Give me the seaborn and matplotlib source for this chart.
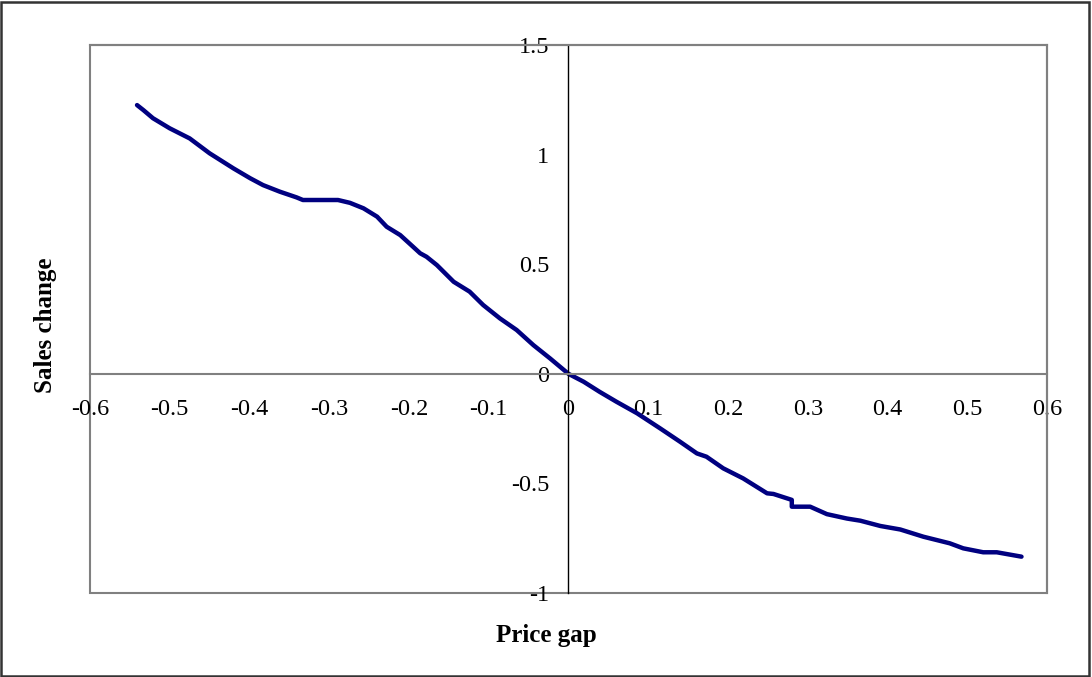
import matplotlib
matplotlib.use("Agg")
import matplotlib.pyplot as plt
from matplotlib.patches import Rectangle
import pandas as pd
import seaborn as sns

# values
price_gap = [-0.541, -0.533, -0.521, -0.500, -0.475, -0.450, -0.420, -0.399, -0.383,
             -0.362, -0.341, -0.333, -0.289, -0.274, -0.257, -0.240, -0.228, -0.211,
             -0.195, -0.186, -0.178, -0.165, -0.144, -0.124, -0.107, -0.086, -0.065,
             -0.044, -0.023, 0.000, 0.019, 0.039, 0.060, 0.086, 0.115, 0.140, 0.161,
             0.173, 0.194, 0.219, 0.249, 0.257, 0.280, 0.280, 0.303, 0.324, 0.349,
             0.366, 0.391, 0.416, 0.445, 0.478, 0.495, 0.520, 0.537, 0.568]
sales_change = [1.226, 1.203, 1.166, 1.120, 1.074, 1.006, 0.937, 0.892, 0.861,
                0.831, 0.805, 0.793, 0.793, 0.780, 0.755, 0.717, 0.671, 0.633,
                0.580, 0.550, 0.534, 0.496, 0.420, 0.375, 0.314, 0.253, 0.200,
                0.131, 0.070, 0.000, -0.036, -0.082, -0.127, -0.180, -0.249, -0.310, -0.363,
                -0.378, -0.431, -0.477, -0.545, -0.548, -0.575, -0.606, -0.606, -0.640, -0.660,
                -0.670, -0.694, -0.710, -0.743, -0.773, -0.796, -0.814, -0.814, -0.834]

x_ticks = [-0.6, -0.5, -0.4, -0.3, -0.2, -0.1, 0, 0.1, 0.2, 0.3, 0.4, 0.5, 0.6]
x_ticklabels = ["-0.6", "-0.5", "-0.4", "-0.3", "-0.2", "-0.1", "0",
                "0.1", "0.2", "0.3", "0.4", "0.5", "0.6"]
y_ticks = [-1, -0.5, 0, 0.5, 1, 1.5]
y_ticklabels = ["-1", "-0.5", "0", "0.5", "1", "1.5"]

df = pd.DataFrame({"Price gap": price_gap, "Sales change": sales_change})

sns.set_style("white")
plt.rcParams["font.family"] = ["Liberation Serif", "DejaVu Serif"]
plt.rcParams["text.color"] = "black"
plt.rcParams["xtick.labelcolor"] = "black"
plt.rcParams["ytick.labelcolor"] = "black"

fig = plt.figure(figsize=(10.92, 6.77), dpi=100)
ax = fig.add_axes([0.0824, 0.124, 0.8764, 0.8095])

sns.lineplot(data=df, x="Price gap", y="Sales change", ax=ax,
             color="#000080", lw=3.2, estimator=None, sort=False)

ax.set_xlim(-0.6, 0.6)
ax.set_ylim(-1, 1.5)

# ── axes crossing at zero ─────────────────────────────────────────────────
ax.spines["left"].set_position(("data", 0))
ax.spines["bottom"].set_position(("data", 0))
ax.spines["left"].set_color("black")
ax.spines["left"].set_linewidth(1.0)
ax.spines["bottom"].set_color("#808080")
ax.spines["bottom"].set_linewidth(1.5)
for s in ("top", "right"):
    ax.spines[s].set_color("#808080")
    ax.spines[s].set_linewidth(1.5)
# plot-area frame
ax.add_patch(Rectangle((0, 0), 1, 1, transform=ax.transAxes, fill=False,
                       edgecolor="#808080", lw=1.5, clip_on=False, zorder=0))

ax.set_xticks(x_ticks)
ax.set_xticklabels(x_ticklabels)
ax.set_yticks(y_ticks)
ax.set_yticklabels(y_ticklabels)
ax.tick_params(axis="x", direction="out", length=5, width=1, color="black",
               labelsize=17.5, labelcolor="black", pad=13)
ax.tick_params(axis="y", direction="out", length=5, width=1, color="black",
               labelsize=17.5, labelcolor="black", pad=9)

ax.set_xlabel("")
ax.set_ylabel("")
fig.text(0.5, 0.061, "Price gap", ha="center", va="center",
         fontsize=18, fontweight="bold", color="black")
fig.text(0.042, 0.52, "Sales change", ha="center", va="center",
         rotation=90, fontsize=18, fontweight="bold", color="black")

# outer chart border
fig.patches.append(Rectangle((0.001, 0.0015), 0.9965, 0.996, transform=fig.transFigure,
                             fill=False, edgecolor="#333333", lw=1.8))

plt.savefig("out.png", dpi=100)
plt.close()
